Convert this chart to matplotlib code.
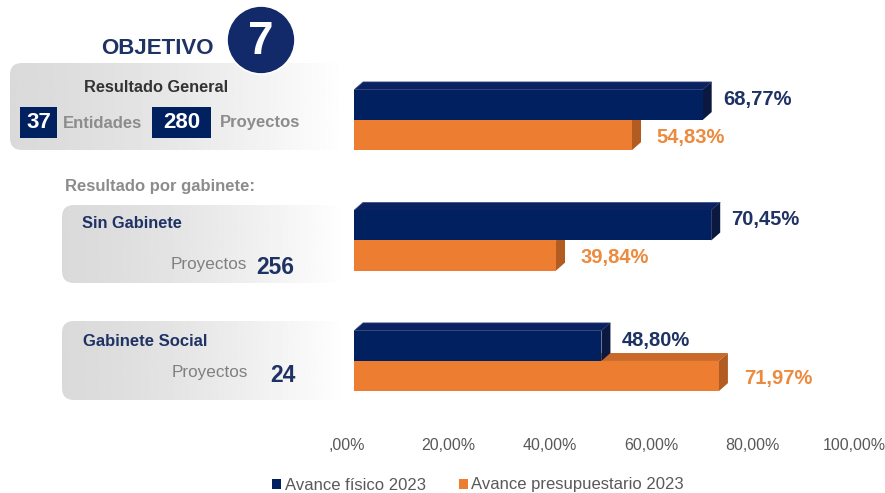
import numpy as np
import matplotlib
matplotlib.use('Agg')
import matplotlib.pyplot as plt
import matplotlib.transforms as mtransforms
from matplotlib.patches import FancyBboxPatch, Circle, Polygon, Patch, Rectangle

plt.rcParams['font.family'] = ['Liberation Sans', 'DejaVu Sans']

# Datos del objetivo 7
grupos = ['Resultado General', 'Sin Gabinete', 'Gabinete Social']
avance_fisico = [68.77, 70.45, 48.80]
avance_presupuestario = [54.83, 39.84, 71.97]
proyectos = [280, 256, 24]
entidades = 37
ticks = [0, 20, 40, 60, 80, 100]

AZUL = '#002060'
AZUL_LADO = '#0b1840'
AZUL_TXT = '#1f3264'
NARANJA = '#ed7d31'
NARANJA_LADO = '#b35c22'
NARANJA_TXT = '#ec8a3e'
GRIS = '#8c8c8c'


def pct(v):
    s = ('%.2f' % v).replace('.', ',')
    if v == 0:
        s = s.lstrip('0')
    return s + '%'


fig = plt.figure(figsize=(8.85, 4.93), dpi=100)

# capa de fondo en pixeles para los paneles de la izquierda
bg = fig.add_axes([0, 0, 1, 1])
bg.set_xlim(0, 885)
bg.set_ylim(493, 0)
bg.axis('off')

grad = np.linspace(0, 1, 256)
grad = 0.855 + 0.145 * grad ** 1.4
grad = np.tile(grad, (2, 1))


def panel(x0, y0, x1, y1):
    caja = FancyBboxPatch((x0, y0), x1 - x0, y1 - y0,
                          boxstyle='round,pad=0,rounding_size=12',
                          facecolor='none', edgecolor='none')
    bg.add_patch(caja)
    im = bg.imshow(grad, cmap='gray', vmin=0, vmax=1, aspect='auto',
                   extent=(x0, x1, y1, y0), zorder=1)
    im.set_clip_path(caja)


panel(10, 63, 345, 150)
panel(62, 205, 345, 283)
panel(62, 321, 345, 400)

# encabezado
bg.text(157, 49, 'OBJETIVO', fontsize=16, fontweight='bold', color=AZUL_TXT,
        ha='center', va='center', zorder=3)
bg.add_patch(Circle((261, 40), 34, facecolor='#12296a', edgecolor='white',
                    lw=1.2, zorder=4))
bg.text(261, 42, '7', fontsize=33, fontweight='bold', color='white',
        ha='center', va='center', zorder=5)

bg.text(156, 87, grupos[0], fontsize=11.8, fontweight='bold', color='#333333',
        ha='center', va='center', zorder=3)
bg.add_patch(Rectangle((20, 107), 37, 31, facecolor=AZUL, zorder=3))
bg.text(38.5, 123, str(entidades), fontsize=16, fontweight='bold', color='white',
        ha='center', va='center', zorder=4)
bg.text(63, 123, 'Entidades', fontsize=12, fontweight='bold', color=GRIS,
        ha='left', va='center', zorder=3)
bg.add_patch(Rectangle((152, 107), 59, 31, facecolor=AZUL, zorder=3))
bg.text(181.5, 123, str(proyectos[0]), fontsize=16, fontweight='bold', color='white',
        ha='center', va='center', zorder=4)
bg.text(220, 123, 'Proyectos', fontsize=12, fontweight='bold', color=GRIS,
        ha='left', va='center', zorder=3)

bg.text(65, 187, 'Resultado por gabinete:', fontsize=12, fontweight='bold',
        color=GRIS, ha='left', va='center', zorder=3)

bg.text(82, 224, grupos[1], fontsize=11.8, fontweight='bold', color=AZUL_TXT,
        ha='left', va='center', zorder=3)
bg.text(247, 265, 'Proyectos', fontsize=12.3, color='#808080',
        ha='right', va='center', zorder=3)
bg.text(256, 267, str(proyectos[1]), fontsize=16.5, fontweight='bold', color=AZUL_TXT,
        ha='left', va='center', zorder=3)

bg.text(83, 342, grupos[2], fontsize=12, fontweight='bold', color=AZUL_TXT,
        ha='left', va='center', zorder=3)
bg.text(248, 373, 'Proyectos', fontsize=12.3, color='#808080',
        ha='right', va='center', zorder=3)
bg.text(270, 376, str(proyectos[2]), fontsize=16.5, fontweight='bold', color=AZUL_TXT,
        ha='left', va='center', zorder=3)

# grafico de barras
ax = fig.add_axes([354 / 885, 1 - 420 / 493, 507 / 885, 360 / 493])
ax.patch.set_alpha(0)
y = np.arange(len(grupos))
h = 0.25
dx, dy = 1.78, 0.066  # profundidad del efecto 3D

ax.barh(y + h / 2, avance_presupuestario, height=h, color=NARANJA, zorder=3)
ax.barh(y - h / 2, avance_fisico, height=h, color=AZUL, zorder=6)

for yi, vf, vp in zip(y, avance_fisico, avance_presupuestario):
    # caras de la barra naranja
    top, bot = yi, yi + h
    ax.add_patch(Polygon([(0, top), (vp, top), (vp + dx, top - dy), (dx, top - dy)],
                         closed=True, facecolor='#c96a2a', edgecolor='none', zorder=2))
    ax.add_patch(Polygon([(vp, top), (vp + dx, top - dy), (vp + dx, bot - dy), (vp, bot)],
                         closed=True, facecolor=NARANJA_LADO, edgecolor='none', zorder=2))
    # caras de la barra azul
    top, bot = yi - h, yi
    ax.add_patch(Polygon([(0, top), (vf, top), (vf + dx, top - dy), (dx, top - dy)],
                         closed=True, facecolor='#0a2260', edgecolor='#3a4f86', lw=0.5, zorder=5))
    ax.add_patch(Polygon([(vf, top), (vf + dx, top - dy), (vf + dx, bot - dy), (vf, bot)],
                         closed=True, facecolor=AZUL_LADO, edgecolor='none', zorder=5))

    ax.text(vf + 4.0, yi - h / 2 - 0.045, pct(vf), fontsize=14.5, fontweight='bold',
            color=AZUL_TXT, ha='left', va='center', zorder=7)
    ax.text(vp + 4.9, yi + h / 2 + 0.02, pct(vp), fontsize=14.5, fontweight='bold',
            color=NARANJA_TXT, ha='left', va='center', zorder=7)

ax.set_xlim(0, 100)
ax.set_ylim(2.49, -0.498)
ax.set_yticks([])
ax.set_xticks(ticks)
ax.set_xticklabels([pct(t) for t in ticks], fontsize=11.5, color='#595959')
ax.tick_params(axis='x', length=0, pad=13)
desplaza = mtransforms.ScaledTranslation(-7 / 100, 0, fig.dpi_scale_trans)
for lbl in ax.get_xticklabels():
    lbl.set_transform(lbl.get_transform() + desplaza)
for s in ax.spines.values():
    s.set_visible(False)

handles = [Patch(facecolor=AZUL, label='Avance físico 2023'),
           Patch(facecolor=NARANJA, label='Avance presupuestario 2023')]
fig.legend(handles=handles, loc='center', bbox_to_anchor=(478 / 885, 1 - 485 / 493),
           ncol=2, frameon=False, fontsize=12, labelcolor='#595959',
           handlelength=0.55, handleheight=0.55, handletextpad=0.2, columnspacing=2.0)

fig.savefig('out.png', dpi=100)
